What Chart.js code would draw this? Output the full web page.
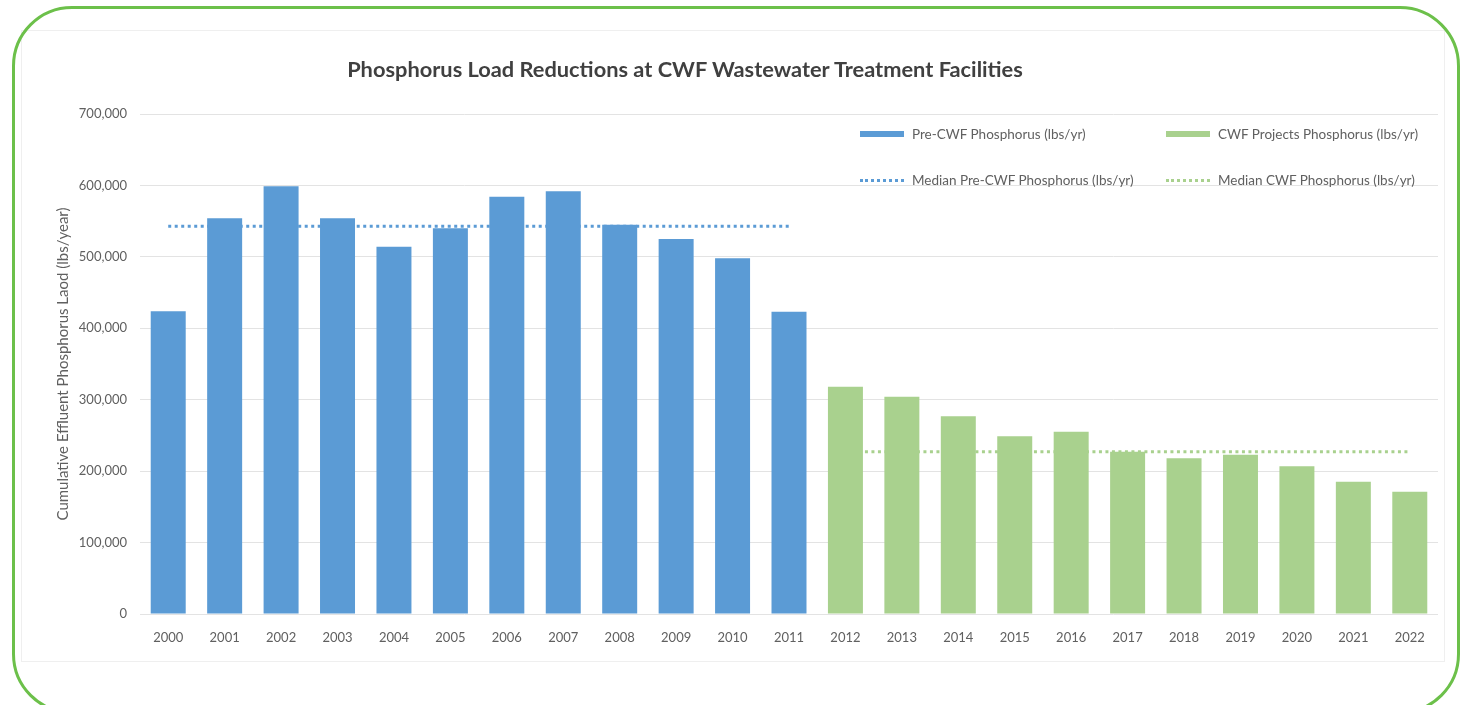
<!DOCTYPE html>
<html>
<head>
<meta charset="utf-8">
<title>Phosphorus Load Reductions</title>
<script src="https://cdn.jsdelivr.net/npm/chart.js@4.4.0/dist/chart.umd.min.js"></script>
<style>
    html, body { margin: 0; padding: 0; background: #fff; }
    #wrap { position: relative; width: 1460px; height: 705px; overflow: hidden; }
    #frame {
        position: absolute; left: 12px; top: 6px; width: 1448px; height: 708px;
        border: 3px solid #6cc04a; border-radius: 60px; box-sizing: border-box;
    }
    #inner {
        position: absolute; left: 21px; top: 30px; width: 1424px; height: 632px;
        border: 1px solid #efefef; box-sizing: border-box;
    }
    #chart { position: absolute; left: 0; top: 0; }
    #title {
        position: absolute; left: 0; top: 55px; width: 1370px; text-align: center;
        font-family: Lato, "Open Sans", sans-serif; font-size: 21.8px; font-weight: bold; color: #404040;
    }
    #legend {
        position: absolute; left: 860px; top: 122px;
        display: grid; grid-template-columns: 306px 260px; grid-auto-rows: 46px;
        font-family: Lato, "Open Sans", sans-serif; font-size: 13.5px; color: #606060;
    }
    .item { display: flex; align-items: center; height: 24px; }
    .swatch { width: 44px; margin-right: 8px; }
</style>
</head>
<body>
<div id="wrap">
    <div id="inner"></div>
    <div id="frame"></div>
    <canvas id="chart" width="1460" height="705"></canvas>
    <div id="title">Phosphorus Load Reductions at CWF Wastewater Treatment Facilities</div>
    <div id="legend"></div>
</div>
<script>
// Données
const years = ['2000', '2001', '2002', '2003', '2004', '2005', '2006', '2007', '2008', '2009', '2010', '2011',
               '2012', '2013', '2014', '2015', '2016', '2017', '2018', '2019', '2020', '2021', '2022'];

const preCwf = [424000, 554000, 599000, 554000, 514000, 540000, 584000, 592000, 545000, 525000, 498000, 423000,
                null, null, null, null, null, null, null, null, null, null, null];

const cwfProjects = [null, null, null, null, null, null, null, null, null, null, null, null,
                     318000, 304000, 277000, 249000, 255000, 227000, 218000, 223000, 207000, 185000, 171000];

const medianPre = [543000, 543000, 543000, 543000, 543000, 543000, 543000, 543000, 543000, 543000, 543000, 543000,
                   null, null, null, null, null, null, null, null, null, null, null];

const medianCwf = [null, null, null, null, null, null, null, null, null, null, null, null,
                   227000, 227000, 227000, 227000, 227000, 227000, 227000, 227000, 227000, 227000, 227000];

const yMax = 700000;
const yStep = 100000;

const BLUE = '#5b9bd5';
const GREEN = '#a9d18e';
const TEXT = '#606060';
const FONT = 'Lato, "Open Sans", sans-serif';

const ctx = document.getElementById('chart');

const chart = new Chart(ctx, {
    type: 'bar',
    data: {
        labels: years,
        datasets: [
            {
                label: 'Pre-CWF Phosphorus (lbs/yr)',
                data: preCwf,
                backgroundColor: BLUE,
                skipNull: true,
                barPercentage: 0.62,
                categoryPercentage: 1,
                order: 1
            },
            {
                label: 'CWF Projects Phosphorus (lbs/yr)',
                data: cwfProjects,
                backgroundColor: GREEN,
                skipNull: true,
                barPercentage: 0.62,
                categoryPercentage: 1,
                order: 1
            },
            {
                type: 'line',
                label: 'Median Pre-CWF Phosphorus (lbs/yr)',
                data: medianPre,
                borderColor: BLUE,
                borderWidth: 3,
                borderDash: [3, 3.5],
                pointRadius: 0,
                fill: false,
                order: 2
            },
            {
                type: 'line',
                label: 'Median CWF Phosphorus (lbs/yr)',
                data: medianCwf,
                borderColor: GREEN,
                borderWidth: 3,
                borderDash: [3, 3.5],
                pointRadius: 0,
                fill: false,
                order: 2
            }
        ]
    },
    options: {
        responsive: false,
        animation: false,
        layout: {
            padding: { left: 50, right: 22, top: 114, bottom: 0 }
        },
        plugins: {
            legend: { display: false },
            tooltip: { enabled: false }
        },
        scales: {
            x: {
                grid: { display: false },
                border: { display: false },
                ticks: {
                    color: TEXT,
                    font: { family: FONT, size: 13 },
                    padding: 8,
                    maxRotation: 0,
                    autoSkip: false
                },
                afterFit: function(scale) {
                    scale.height = 91;
                }
            },
            y: {
                min: 0,
                max: yMax,
                grid: { color: '#e3e3e3', drawTicks: false },
                border: { display: false },
                ticks: {
                    stepSize: yStep,
                    color: TEXT,
                    padding: 13,
                    font: { family: FONT, size: 13 },
                    callback: function(value) {
                        return value.toLocaleString('en-US');
                    }
                },
                title: {
                    display: true,
                    text: 'Cumulative Effluent Phosphorus Laod (lbs/year)',
                    color: TEXT,
                    font: { family: FONT, size: 15 },
                    padding: { top: 4, bottom: 0 }
                },
                afterFit: function(scale) {
                    scale.width = 90;
                }
            }
        }
    }
});

// Légende HTML en grille 2x2
function buildLegend() {
    const legend = document.getElementById('legend');
    legend.innerHTML = '';

    chart.data.datasets.forEach(ds => {
        const item = document.createElement('div');
        item.className = 'item';

        const swatch = document.createElement('span');
        swatch.className = 'swatch';
        if (ds.type === 'line') {
            swatch.style.borderTop = '3px dotted ' + ds.borderColor;
        } else {
            swatch.style.height = '6px';
            swatch.style.background = ds.backgroundColor;
        }

        const text = document.createElement('span');
        text.textContent = ds.label;

        item.appendChild(swatch);
        item.appendChild(text);
        legend.appendChild(item);
    });
}

buildLegend();
</script>
</body>
</html>
